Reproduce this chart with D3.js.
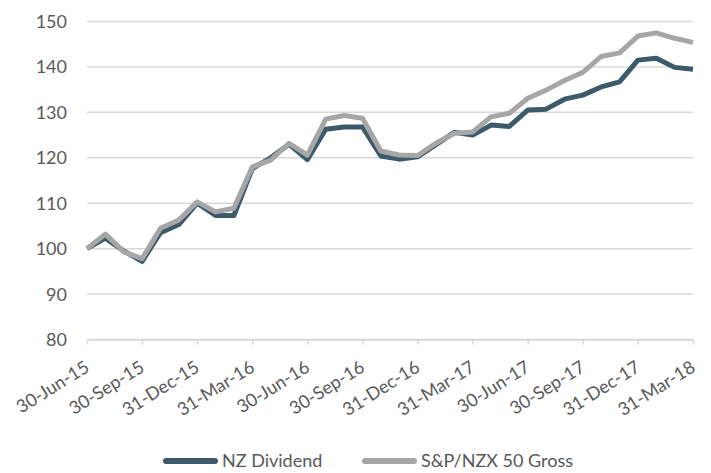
<!DOCTYPE html>
<html>
<head>
<meta charset="utf-8">
<script src="https://cdn.jsdelivr.net/npm/d3@7"></script>
<style>
  body { margin: 0; background: #fff; }
  svg { font-family: Lato, "Open Sans", sans-serif; }
</style>
</head>
<body>
<svg class="perfChart" width="711" height="473"></svg>
<script>
const dates = [
  "30-Jun-15", "31-Jul-15", "31-Aug-15", "30-Sep-15", "31-Oct-15", "30-Nov-15",
  "31-Dec-15", "31-Jan-16", "29-Feb-16", "31-Mar-16", "30-Apr-16", "31-May-16",
  "30-Jun-16", "31-Jul-16", "31-Aug-16", "30-Sep-16", "31-Oct-16", "30-Nov-16",
  "31-Dec-16", "31-Jan-17", "28-Feb-17", "31-Mar-17", "30-Apr-17", "31-May-17",
  "30-Jun-17", "31-Jul-17", "31-Aug-17", "30-Sep-17", "31-Oct-17", "30-Nov-17",
  "31-Dec-17", "31-Jan-18", "28-Feb-18", "31-Mar-18"
];
const tickLabels = ["30-Jun-15", "30-Sep-15", "31-Dec-15", "31-Mar-16", "30-Jun-16", "30-Sep-16",
  "31-Dec-16", "31-Mar-17", "30-Jun-17", "30-Sep-17", "31-Dec-17", "31-Mar-18"];
const yTicks = [80, 90, 100, 110, 120, 130, 140, 150];

const nzDividend = [
  100.0, 102.3, 99.5, 97.2, 103.5, 105.3, 110.0, 107.3, 107.3, 117.6,
  120.0, 123.0, 119.6, 126.3, 126.8, 126.8, 120.4, 119.7, 120.2, 122.9,
  125.6, 125.0, 127.2, 126.9, 130.5, 130.7, 132.9, 133.8, 135.6, 136.7,
  141.5, 141.9, 139.9, 139.5
];
const nzxGross = [
  100.0, 103.2, 99.3, 97.8, 104.5, 106.3, 110.3, 108.1, 108.9, 118.0,
  119.5, 123.2, 120.6, 128.5, 129.3, 128.7, 121.5, 120.6, 120.5, 123.2,
  125.4, 125.7, 129.0, 129.8, 133.1, 134.9, 137.0, 138.8, 142.3, 143.1,
  146.8, 147.5, 146.3, 145.4
];
const seriesNames = ["NZ Dividend", "S&P/NZX 50 Gross"];
const seriesColors = ["#3d5a6b", "#a6a6a6"];

const svg = d3.select('svg.perfChart');
const plotL = 87, plotR = 693, plotT = 21.5, plotB = 339.5;

const x = d3.scalePoint()
  .domain(dates)
  .range([plotL, plotR]);

const y = d3.scaleLinear()
  .domain([80, 150])
  .range([plotB, plotT]);

// gridlines
svg.append('g')
  .selectAll('line')
  .data(yTicks)
  .enter()
  .append('line')
  .attr('x1', plotL)
  .attr('x2', plotR)
  .attr('y1', d => y(d))
  .attr('y2', d => y(d))
  .style('stroke', '#d9d9d9')
  .style('stroke-width', 1.5);

// y labels
svg.append('g')
  .selectAll('text')
  .data(yTicks)
  .enter()
  .append('text')
  .attr('x', 67)
  .attr('y', d => y(d))
  .attr('dy', '0.36em')
  .attr('text-anchor', 'end')
  .style('font-size', '18px')
  .style('fill', '#595959')
  .text(d => d);

// x axis
const xAxis = d3.axisBottom(x)
  .tickValues(tickLabels)
  .tickSize(5)
  .tickSizeOuter(0);

const gx = svg.append('g')
  .attr('transform', 'translate(0,' + plotB + ')')
  .call(xAxis);
gx.select('.domain').style('stroke', '#d9d9d9').style('stroke-width', 1.5);
gx.selectAll('.tick line').style('stroke', '#d9d9d9').style('stroke-width', 1.5);
gx.selectAll('.tick text')
  .attr('y', 0)
  .attr('x', 0)
  .attr('dy', 0)
  .attr('text-anchor', 'end')
  .attr('transform', 'translate(3,31) rotate(-32)')
  .style('font-size', '18px')
  .style('font-family', 'Lato, sans-serif')
  .style('fill', '#595959');

// lines
const line = d3.line()
  .x((d, i) => x(dates[i]))
  .y(d => y(d));

[nzDividend, nzxGross].forEach((vals, k) => {
  svg.append('path')
    .datum(vals)
    .attr('d', line)
    .style('fill', 'none')
    .style('stroke', seriesColors[k])
    .style('stroke-width', 5)
    .style('stroke-linejoin', 'round');
});

// legend
const legendX = [163, 362];
const legend = svg.append('g');
seriesNames.forEach((name, k) => {
  legend.append('line')
    .attr('x1', legendX[k] + 3)
    .attr('x2', legendX[k] + 52)
    .attr('y1', 461)
    .attr('y2', 461)
    .style('stroke', seriesColors[k])
    .style('stroke-width', 6)
    .style('stroke-linecap', 'round');
  legend.append('text')
    .attr('x', legendX[k] + 59)
    .attr('y', 461)
    .attr('dy', '0.36em')
    .style('font-size', '18px')
    .style('fill', '#595959')
    .text(name);
});
</script>
</body>
</html>
